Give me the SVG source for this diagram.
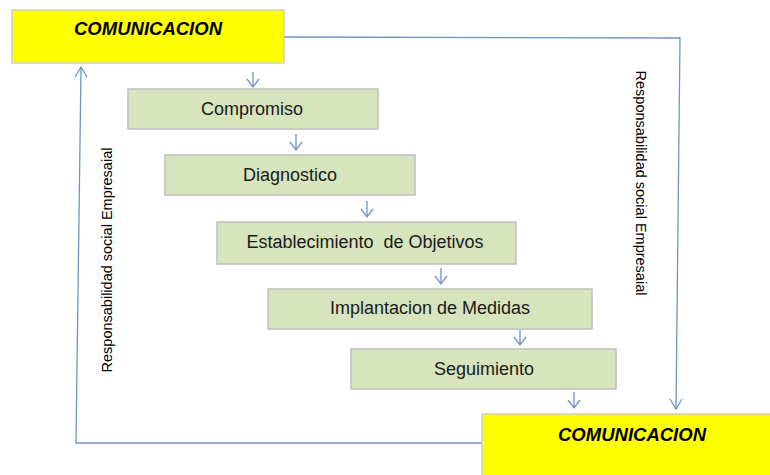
<svg xmlns="http://www.w3.org/2000/svg" width="770" height="475" viewBox="0 0 770 475">
<defs>
<style>
.step{fill:#D7E4BD;stroke:#BFBFBF;stroke-width:1.5}
.com{fill:#FFFF00;stroke:#D0D0C0;stroke-width:1.5}
.st{font-family:"Liberation Sans",Arial,sans-serif;font-size:18px;fill:#1a1a1a;text-anchor:middle;white-space:pre}
.ct{font-family:"Liberation Sans",Arial,sans-serif;font-size:18.5px;font-weight:bold;font-style:italic;fill:#000;text-anchor:middle}
.side{font-family:"Liberation Sans",Arial,sans-serif;font-size:14.5px;fill:#000;text-anchor:middle}
.ln{fill:none;stroke:#6F94C8;stroke-width:1.3}
</style>
</defs>
<g id="connectors">
<path class="ln" d="M284,37 L680,38 L676,409"/>
<path d="M670,399 L676,409 L682,399" class="ln"/>
<path class="ln" d="M482,443 L76,443 L81,67"/>
<path d="M75,77 L81,67 L87,77" class="ln"/>
<path class="ln" d="M253,72 V87 M247,79 L253,87 L259,79"/>
<path class="ln" d="M296,134 V150 M290,142 L296,150 L302,142"/>
<path class="ln" d="M367,201 V217 M361,209 L367,217 L373,209"/>
<path class="ln" d="M441,268 V284 M435,276 L441,284 L447,276"/>
<path class="ln" d="M520,330 V345 M514,337 L520,345 L526,337"/>
<path class="ln" d="M574,392 V408 M568,400 L574,408 L580,400"/>
</g>
<g id="com-top">
<rect class="com" x="12" y="10" width="272" height="53"/>
<text class="ct" x="148" y="35">COMUNICACION</text>
</g>
<g id="com-bottom">
<rect class="com" x="482" y="414" width="292" height="65"/>
<text class="ct" x="632" y="441">COMUNICACION</text>
</g>
<g id="compromiso">
<rect class="step" x="128" y="89" width="250" height="40"/>
<text class="st" x="252" y="115">Compromiso</text>
</g>
<g id="diagnostico">
<rect class="step" x="165" y="155" width="250" height="40"/>
<text class="st" x="290" y="181">Diagnostico</text>
</g>
<g id="establecimiento">
<rect class="step" x="217" y="222" width="299" height="42"/>
<text class="st" x="365" y="248">Establecimiento  de Objetivos</text>
</g>
<g id="implantacion">
<rect class="step" x="268" y="289" width="324" height="40"/>
<text class="st" x="430" y="314">Implantacion de Medidas</text>
</g>
<g id="seguimiento">
<rect class="step" x="351" y="349" width="265" height="40"/>
<text class="st" x="484" y="375">Seguimiento</text>
</g>
<g id="labels">
<text class="side" transform="translate(112,260) rotate(-90)">Responsabilidad social Empresaial</text>
<text class="side" transform="translate(636,183) rotate(90)">Responsabilidad social Empresaial</text>
</g>
</svg>
